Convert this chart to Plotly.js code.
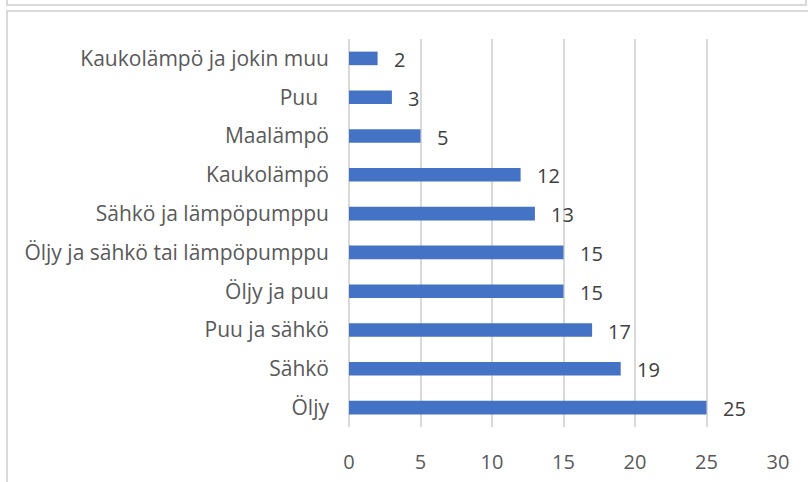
<!DOCTYPE html>
<html>
<head>
<meta charset="utf-8">
<script src="https://cdn.plot.ly/plotly-3.0.1.min.js"></script>
<style>
html,body{margin:0;padding:0;background:#fff;}
#wrap{position:relative;width:808px;height:482px;overflow:hidden;}
#chart{position:absolute;left:0;top:0;width:808px;height:482px;}
.ln{position:absolute;background:#d9d9d9;}
</style>
</head>
<body>
<div id="wrap">
<div id="chart"></div>
<div class="ln" style="left:6px;top:0;width:2px;height:6px;"></div>
<div class="ln" style="left:805px;top:0;width:2px;height:6px;"></div>
<div class="ln" style="left:6px;top:4px;width:801px;height:2px;"></div>
<div class="ln" style="left:6px;top:10px;width:802px;height:2px;"></div>
<div class="ln" style="left:6px;top:10px;width:2px;height:472px;"></div>
</div>
<script>
const categories = ["Kaukolämpö ja jokin muu","Puu\u00a0\u00a0","Maalämpö","Kaukolämpö","Sähkö ja lämpöpumppu","Öljy ja sähkö tai lämpöpumppu","Öljy ja puu","Puu ja sähkö","Sähkö","Öljy"];
const values = [2,3,5,12,13,15,15,17,19,25];
const xTicks = [0,5,10,15,20,25,30];

const font = "'Open Sans', sans-serif";
const trace = {
  type: 'bar',
  orientation: 'h',
  y: categories,
  x: values,
  marker: {color: '#4472c4'},
  hoverinfo: 'skip'
};
const annotations = values.map((v, i) => ({
  x: v, y: categories[i], xref: 'x', yref: 'y',
  text: String(v), showarrow: false, xanchor: 'left', xshift: 14, yshift: -1,
  font: {family: font, size: 20, color: '#404040'}
}));
const layout = {
  width: 808, height: 482,
  margin: {l: 349, r: 30, t: 39, b: 55},
  paper_bgcolor: 'rgba(0,0,0,0)', plot_bgcolor: 'rgba(0,0,0,0)',
  showlegend: false,
  bargap: 0.65,
  font: {family: font, size: 19, color: '#595959'},
  xaxis: {
    range: [0, 30], tickvals: xTicks, ticktext: xTicks.map(String),
    showgrid: true, gridcolor: '#d9d9d9', gridwidth: 2,
    zeroline: true, zerolinecolor: '#d9d9d9', zerolinewidth: 2,
    showline: false, ticks: '', ticklabelstandoff: 21,
    tickfont: {family: font, size: 20, color: '#595959'}
  },
  yaxis: {
    autorange: 'reversed', type: 'category',
    showgrid: false, zeroline: false, showline: false, ticks: '',
    ticklabelstandoff: 19,
    tickfont: {family: font, size: 21, color: '#595959'}
  },
  annotations: annotations
};
Plotly.newPlot('chart', [trace], layout, {displayModeBar: false, staticPlot: true});
</script>
</body>
</html>
